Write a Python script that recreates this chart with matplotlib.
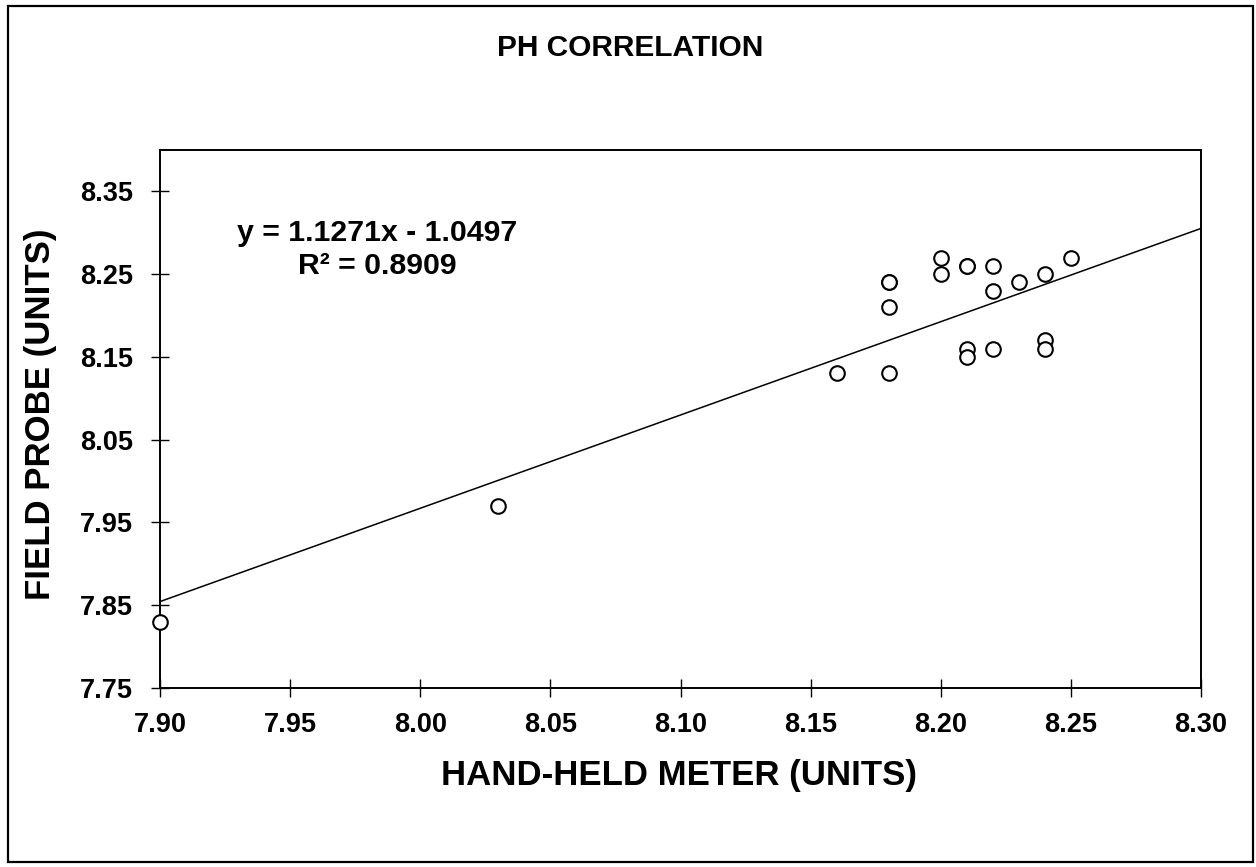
import numpy as np
import matplotlib
matplotlib.use("Agg")
import matplotlib.pyplot as plt
from matplotlib.patches import Rectangle

# hand-held meter vs field probe readings (pH units)
hand_held = [7.90, 8.03, 8.16, 8.18, 8.18, 8.18, 8.20, 8.20, 8.21, 8.22, 8.22,
             8.23, 8.24, 8.25, 8.21, 8.21, 8.22, 8.24, 8.24, 8.18, 8.21]
field_probe = [7.83, 7.97, 8.13, 8.13, 8.21, 8.24, 8.27, 8.25, 8.26, 8.26, 8.23,
               8.24, 8.25, 8.27, 8.16, 8.15, 8.16, 8.17, 8.16, 8.24, 8.26]

# linear trendline as reported on the chart
slope = 1.1271
intercept = -1.0497
r_squared = 0.8909

x_ticks = [7.90, 7.95, 8.00, 8.05, 8.10, 8.15, 8.20, 8.25, 8.30]
y_ticks = [7.75, 7.85, 7.95, 8.05, 8.15, 8.25, 8.35]

plt.rcParams['font.family'] = ['Liberation Sans', 'DejaVu Sans']
plt.rcParams['font.weight'] = 'bold'

fig = plt.figure(figsize=(12.56, 8.67), dpi=100)
ax = fig.add_axes([0.1274, 0.2065, 0.8288, 0.6205])

# outer frame of the picture
fig.patches.append(Rectangle((0.006, 0.006), 0.992, 0.987, transform=fig.transFigure,
                             fill=False, edgecolor='black', linewidth=1.6))

line_x = np.array([7.90, 8.30])
ax.plot(line_x, slope * line_x + intercept, color='black', linewidth=1.1)

ax.plot(hand_held, field_probe, linestyle='none', marker='o', markersize=10.5,
        markerfacecolor='white', markeredgecolor='black', markeredgewidth=1.5,
        clip_on=False, zorder=3)

ax.set_xlim(7.90, 8.30)
ax.set_ylim(7.75, 8.40)
ax.set_xticks(x_ticks)
ax.set_yticks(y_ticks)
ax.set_xticklabels(['%.2f' % v for v in x_ticks])
ax.set_yticklabels(['%.2f' % v for v in y_ticks])
ax.tick_params(direction='inout', length=13, width=1.0, labelsize=19.5)
ax.tick_params(axis='x', pad=11)
ax.tick_params(axis='y', pad=13)
for lab in ax.get_xticklabels() + ax.get_yticklabels():
    lab.set_fontweight('bold')
for s in ax.spines.values():
    s.set_linewidth(1.4)

ax.text(0.209, 0.815, 'y = %.4fx - %.4f\nR² = %.4f' % (slope, -intercept, r_squared),
        transform=ax.transAxes, ha='center', va='center', multialignment='center',
        fontsize=21.8, fontweight='bold', linespacing=1.2)

fig.text(0.502, 0.945, 'PH CORRELATION', ha='center', va='center',
         fontsize=21.5, fontweight='bold')
fig.text(0.541, 0.106, 'HAND-HELD METER (UNITS)', ha='center', va='center',
         fontsize=25, fontweight='bold')
fig.text(0.032, 0.522, 'FIELD PROBE (UNITS)', ha='center', va='center',
         rotation=90, fontsize=25, fontweight='bold')

fig.savefig('out.png', dpi=100)
